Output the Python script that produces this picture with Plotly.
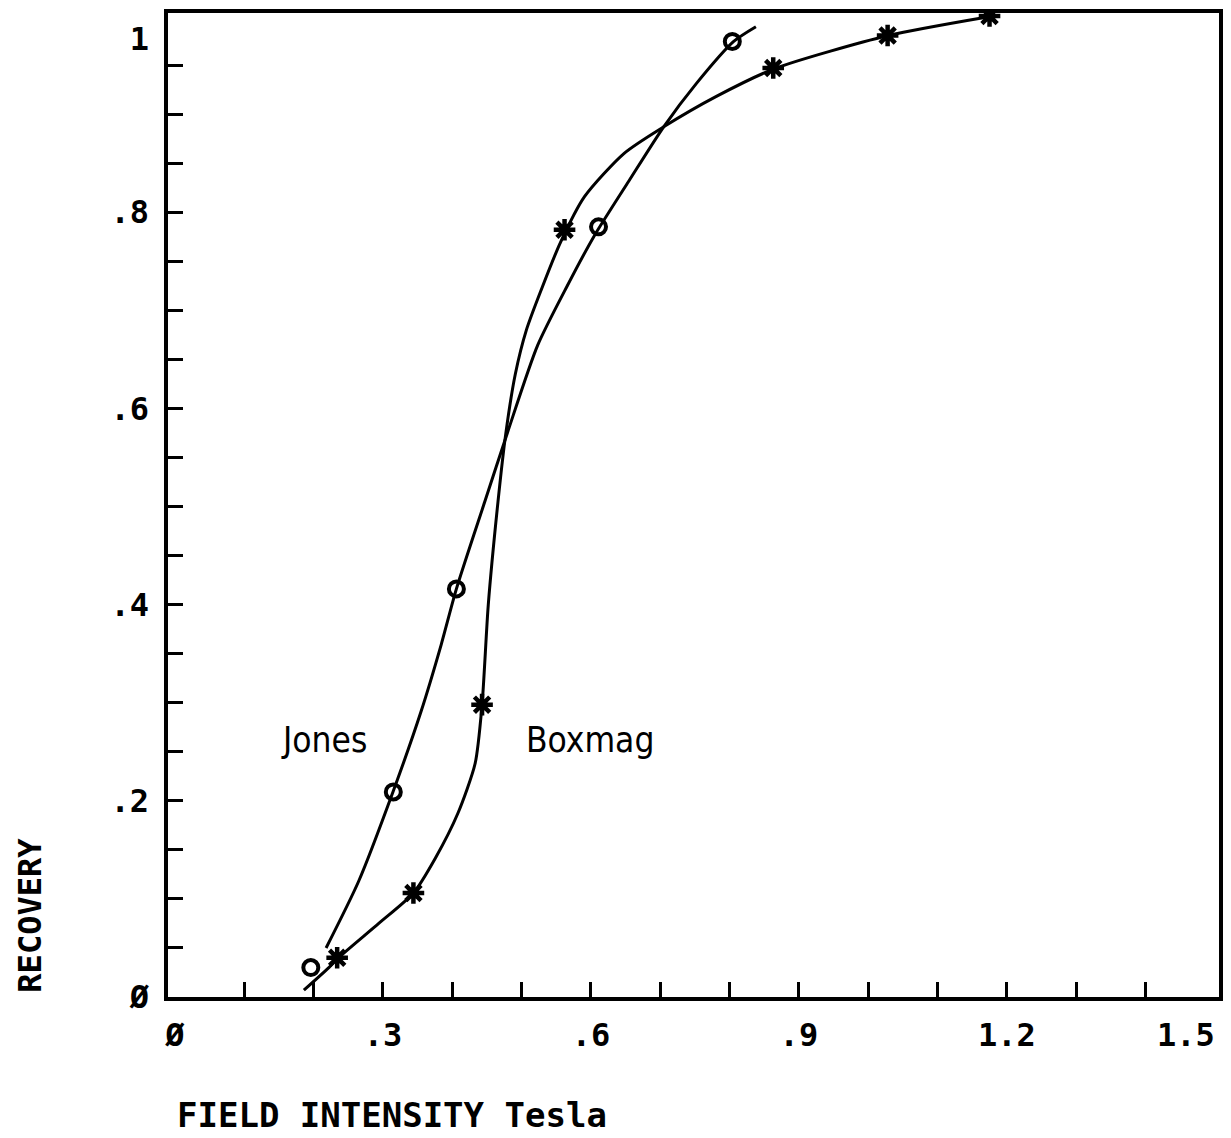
import plotly.graph_objects as go

# Measured points (field intensity in tesla, fractional recovery)
jones_x = [0.196, 0.315, 0.406, 0.611, 0.804]
jones_y = [0.030, 0.209, 0.416, 0.785, 0.974]
boxmag_x = [0.234, 0.344, 0.443, 0.562, 0.863, 1.028, 1.175]
boxmag_y = [0.040, 0.106, 0.298, 0.782, 0.947, 0.980, 1.000]

# Hand-fitted smooth curves through each separator's points
jones_fit_x = [0.218, 0.265, 0.315, 0.355, 0.384, 0.406, 0.447, 0.480,
               0.523, 0.566, 0.605, 0.655, 0.705, 0.752, 0.806, 0.838]
jones_fit_y = [0.050, 0.118, 0.210, 0.291, 0.359, 0.416, 0.505, 0.576,
               0.664, 0.725, 0.776, 0.832, 0.887, 0.931, 0.974, 0.989]
boxmag_fit_x = [0.186, 0.222, 0.236, 0.294, 0.344, 0.376, 0.408, 0.433, 0.443,
                0.452, 0.466, 0.477, 0.491, 0.507, 0.529, 0.556, 0.591,
                0.648, 0.705, 0.781, 0.864, 1.029, 1.172]
boxmag_fit_y = [0.007, 0.030, 0.040, 0.075, 0.106, 0.142, 0.187, 0.238, 0.298,
                0.400, 0.505, 0.573, 0.635, 0.680, 0.722, 0.769, 0.816,
                0.860, 0.887, 0.918, 0.946, 0.980, 0.999]

# Axis ticks and labels
x_minor_ticks = [round(0.1 * i, 1) for i in range(1, 15)]
x_label_vals = [0, 0.3, 0.6, 0.9, 1.2]
x_label_text = ["Ø", ".3", ".6", ".9", "1.2"]
x_end_val = [1.5]
x_end_text = ["1.5"]
y_minor_ticks = [round(0.05 * i, 2) for i in range(1, 20)]
y_label_vals = [0, 0.2, 0.4, 0.6, 0.8]
y_label_text = ["Ø", ".2", ".4", ".6", ".8"]
y_end_val = [1.0]
y_end_text = ["1"]

series_labels = [("Jones", 0.150, 0.262), ("Boxmag", 0.504, 0.262)]

MONO = "DejaVu Sans Mono, Liberation Mono, monospace"
NARROW = "Liberation Sans Narrow, DejaVu Sans Condensed, Arial Narrow, sans-serif"
XR = [-0.01, 1.506]
YR = [0, 1.003]

fig = go.Figure()

fig.add_trace(go.Scatter(x=jones_fit_x, y=jones_fit_y, mode="lines",
                         line=dict(color="black", width=3, shape="spline", smoothing=0.7),
                         hoverinfo="skip", showlegend=False))
fig.add_trace(go.Scatter(x=boxmag_fit_x, y=boxmag_fit_y, mode="lines",
                         line=dict(color="black", width=3, shape="spline", smoothing=0.7),
                         hoverinfo="skip", showlegend=False))
fig.add_trace(go.Scatter(x=jones_x, y=jones_y, mode="markers", name="Jones",
                         marker=dict(symbol="circle-open", size=15, color="black",
                                     line=dict(width=4, color="black")),
                         showlegend=False))
fig.add_trace(go.Scatter(x=boxmag_x, y=boxmag_y, mode="markers", name="Boxmag",
                         marker=dict(symbol="asterisk-open", size=18, color="black",
                                     line=dict(width=4.5, color="black")),
                         showlegend=False))

# Invisible traces that carry the labelled overlay axes
fig.add_trace(go.Scatter(x=XR, y=YR, xaxis="x2", yaxis="y2", mode="markers",
                         marker=dict(opacity=0), hoverinfo="skip", showlegend=False))
fig.add_trace(go.Scatter(x=XR, y=YR, xaxis="x3", yaxis="y3", mode="markers",
                         marker=dict(opacity=0), hoverinfo="skip", showlegend=False))

for label, lx, ly in series_labels:
    fig.add_annotation(x=lx, y=ly, xref="x", yref="y", text=label, showarrow=False,
                       font=dict(family=NARROW, size=35, color="black"),
                       xanchor="left", yanchor="middle")

fig.add_annotation(x=0, y=-0.12, xref="x", yref="paper", text="FIELD INTENSITY Tesla",
                   showarrow=False, xanchor="left", yanchor="middle",
                   font=dict(family=MONO, size=34, color="black", weight="bold"))
fig.add_annotation(x=-0.131, y=0.083, xref="paper", yref="paper", text="RECOVERY",
                   showarrow=False, textangle=-90, xanchor="center", yanchor="middle",
                   font=dict(family=MONO, size=32, color="black", weight="bold"))

axis_common = dict(showgrid=False, zeroline=False, automargin=False)
label_font = dict(family=MONO, size=32, color="black", weight="bold")

fig.update_layout(
    width=1231, height=1138,
    margin=dict(l=168, r=12, t=13, b=141, autoexpand=False),
    paper_bgcolor="white", plot_bgcolor="white",
    xaxis=dict(range=XR, tickmode="array", tickvals=x_minor_ticks, showticklabels=False,
               ticks="inside", ticklen=15, tickwidth=3, tickcolor="black",
               showline=True, linewidth=4, linecolor="black", mirror=True, **axis_common),
    yaxis=dict(range=YR, tickmode="array", tickvals=y_minor_ticks, showticklabels=False,
               ticks="inside", ticklen=15, tickwidth=3, tickcolor="black",
               showline=True, linewidth=4, linecolor="black", mirror=True, **axis_common),
    xaxis2=dict(range=XR, overlaying="x", side="bottom", tickmode="array",
                tickvals=x_label_vals, ticktext=x_label_text, ticks="", ticklabelstandoff=16,
                tickfont=label_font, showline=False, **axis_common),
    yaxis2=dict(range=YR, overlaying="y", side="left", tickmode="array",
                tickvals=y_label_vals, ticktext=y_label_text, ticks="", ticklabelstandoff=18,
                tickfont=label_font, showline=False, anchor="x2", **axis_common),
    # end-of-axis labels sit inward of their ticks so they stay on the page
    xaxis3=dict(range=XR, overlaying="x", side="bottom", tickmode="array",
                tickvals=x_end_val, ticktext=x_end_text, ticks="", ticklabelstandoff=16,
                ticklabelposition="outside left",
                tickfont=label_font, showline=False, **axis_common),
    yaxis3=dict(range=YR, overlaying="y", side="left", tickmode="array",
                tickvals=y_end_val, ticktext=y_end_text, ticks="", ticklabelstandoff=18,
                ticklabelposition="outside bottom",
                tickfont=label_font, showline=False, anchor="x3", **axis_common),
)

fig.write_html("out.html")
